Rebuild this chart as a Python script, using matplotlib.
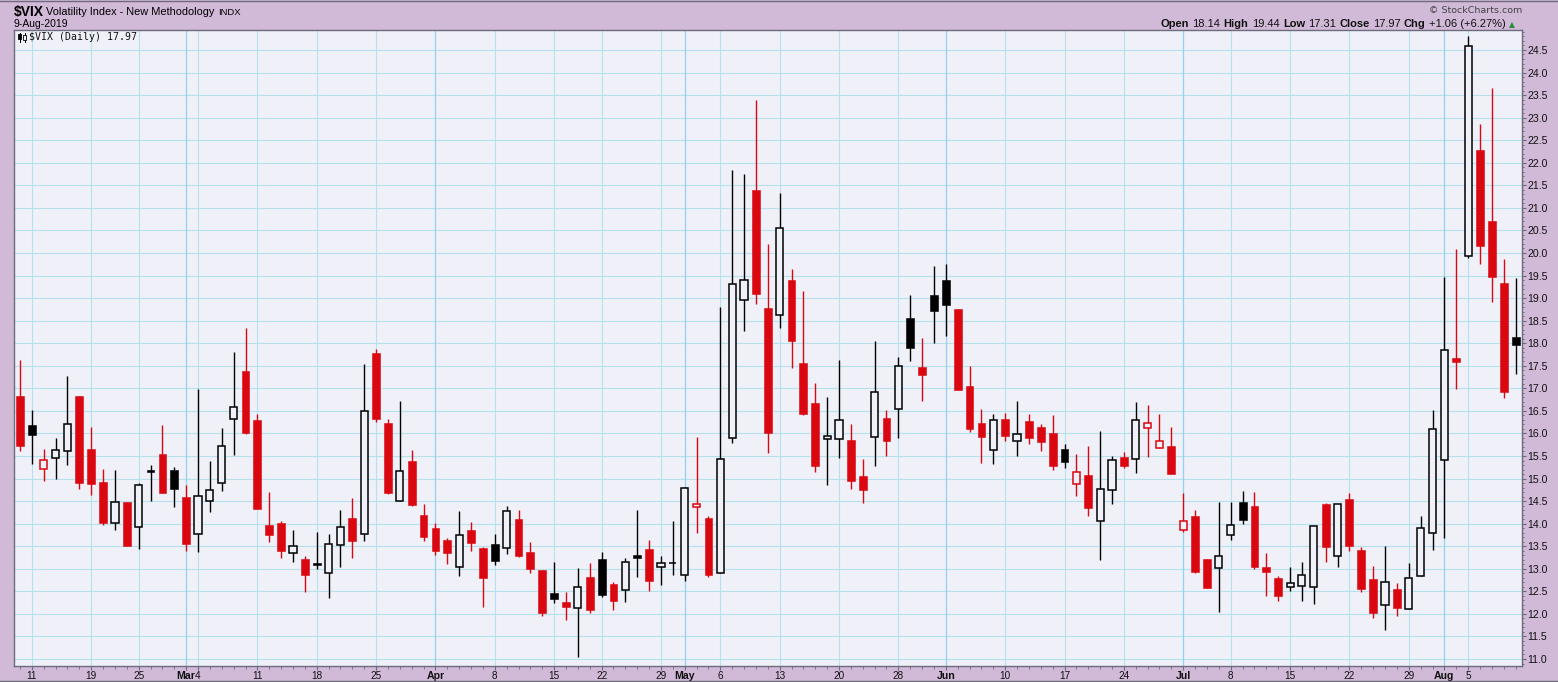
import matplotlib
matplotlib.use('Agg')
import matplotlib.pyplot as plt
import numpy as np
import pandas as pd
from matplotlib.offsetbox import TextArea, HPacker, AnnotationBbox
from matplotlib.patches import Rectangle
from matplotlib.lines import Line2D

# ---------------- data ----------------
holidays = ['2019-02-18', '2019-04-19', '2019-05-27', '2019-07-04']
dates = pd.bdate_range('2019-02-08', '2019-08-09')
dates = dates[~dates.isin(pd.to_datetime(holidays))]

prev_close0 = 16.37

opens = [16.82, 16.18, 15.22, 15.46, 15.62, 16.82, 15.65, 14.92, 14.01, 14.48,
         13.92, 15.17, 15.54, 15.18, 14.59, 13.76, 14.51, 14.91, 16.32, 17.39,
         16.29, 13.97, 14.01, 13.34, 13.22, 13.11, 12.90, 13.53, 14.12, 13.76,
         17.78, 16.23, 14.51, 15.39, 14.19, 13.90, 13.63, 13.05, 13.85, 13.46,
         13.54, 13.45, 14.10, 13.38, 12.98, 12.46, 12.27, 12.13, 12.82, 13.22,
         12.67, 12.53, 13.31, 13.44, 13.04, 13.12, 12.86, 14.36, 14.13, 12.91,
         15.90, 18.95, 21.40, 18.78, 18.62, 19.40, 17.57, 16.68, 15.88, 15.88,
         15.86, 15.06, 15.92, 16.35, 16.55, 18.55, 17.48, 19.06, 19.41, 18.75,
         17.06, 16.24, 15.64, 16.31, 15.84, 16.27, 16.15, 16.00, 15.65, 14.89,
         15.07, 14.06, 14.75, 15.48, 15.44, 16.12, 15.68, 15.73, 13.86, 14.18,
         13.21, 13.02, 13.75, 14.49, 14.40, 13.03, 12.79, 12.60, 12.62, 12.60,
         14.44, 13.28, 14.55, 13.41, 12.78, 12.19, 12.55, 12.10, 12.84, 13.79,
         15.41, 17.68, 19.93, 22.28, 20.70, 19.34, 18.14]
highs = [17.63, 16.51, 15.65, 15.91, 17.28, 16.84, 16.15, 15.21, 15.18, 14.48,
         14.90, 15.29, 16.18, 15.25, 14.85, 16.99, 15.40, 16.11, 17.81, 18.34,
         16.44, 14.70, 14.06, 13.86, 13.28, 13.81, 13.77, 14.30, 14.57, 17.53,
         17.87, 16.32, 16.71, 15.63, 14.43, 14.01, 13.68, 14.28, 14.03, 13.48,
         13.77, 14.39, 14.30, 13.60, 12.98, 13.15, 12.49, 13.02, 13.13, 13.37,
         12.71, 13.24, 14.30, 13.64, 13.29, 14.05, 14.82, 15.93, 14.17, 18.80,
         21.84, 21.74, 23.39, 20.20, 21.33, 19.65, 19.16, 17.12, 16.81, 17.63,
         16.21, 15.44, 18.05, 16.52, 17.70, 19.06, 18.12, 19.72, 19.76, 18.75,
         17.50, 16.55, 16.44, 16.46, 16.71, 16.44, 16.22, 16.40, 15.76, 15.54,
         15.73, 16.06, 15.50, 15.58, 16.70, 16.62, 16.42, 16.15, 14.67, 14.31,
         13.21, 14.49, 14.47, 14.73, 14.71, 13.34, 12.83, 13.03, 13.16, 13.95,
         14.46, 14.43, 14.68, 13.48, 13.07, 13.50, 12.68, 13.13, 14.16, 16.52,
         19.46, 20.09, 24.82, 22.87, 23.66, 19.87, 19.44]
lows = [15.61, 15.32, 14.95, 14.99, 15.30, 14.77, 14.64, 13.98, 13.85, 13.51,
        13.43, 14.51, 14.68, 14.37, 13.40, 13.38, 14.26, 14.73, 15.52, 15.99,
        14.33, 13.60, 13.25, 13.16, 12.49, 13.00, 12.36, 13.05, 13.25, 13.62,
        16.26, 14.66, 14.51, 14.40, 13.62, 13.31, 13.11, 12.85, 13.40, 12.16,
        13.09, 13.32, 13.27, 12.90, 11.95, 12.24, 11.86, 11.05, 12.01, 12.38,
        12.08, 12.26, 12.81, 12.50, 12.65, 12.87, 12.74, 13.80, 12.81, 12.91,
        15.78, 18.28, 18.86, 15.56, 18.33, 17.44, 16.40, 15.14, 14.85, 15.45,
        14.76, 14.45, 15.27, 15.50, 15.90, 17.60, 16.72, 18.00, 18.15, 16.96,
        16.03, 15.34, 15.32, 15.83, 15.50, 15.76, 15.61, 15.19, 15.23, 14.61,
        14.16, 13.19, 14.43, 15.23, 15.12, 15.47, 15.68, 15.10, 13.81, 12.90,
        12.57, 12.04, 13.63, 13.99, 12.99, 12.39, 12.28, 12.51, 12.28, 12.21,
        13.14, 13.05, 13.39, 12.49, 11.92, 11.64, 11.96, 12.10, 12.84, 13.41,
        13.69, 16.99, 19.88, 19.76, 18.91, 16.78, 17.31]
closes = [15.72, 15.96, 15.42, 15.64, 16.21, 14.90, 14.88, 14.02, 14.48, 13.51,
          14.85, 15.17, 14.68, 14.77, 13.56, 14.62, 14.74, 15.73, 16.59, 16.02,
          14.33, 13.75, 13.40, 13.50, 12.87, 13.11, 13.56, 13.92, 13.62, 16.49,
          16.32, 14.68, 15.16, 14.42, 13.71, 13.40, 13.36, 13.74, 13.58, 12.80,
          13.18, 14.27, 13.29, 13.00, 12.01, 12.32, 12.16, 12.60, 12.08, 12.41,
          12.28, 13.15, 13.25, 12.72, 13.12, 13.13, 14.80, 14.43, 12.87, 15.44,
          19.31, 19.40, 19.08, 16.02, 20.55, 18.04, 16.42, 15.27, 15.94, 16.30,
          14.94, 14.74, 16.92, 15.83, 17.50, 17.89, 17.29, 18.71, 18.84, 16.97,
          16.09, 15.93, 16.30, 15.94, 15.99, 15.89, 15.81, 15.28, 15.36, 15.15,
          14.34, 14.77, 15.41, 15.27, 16.30, 16.23, 15.83, 15.10, 14.06, 12.93,
          12.57, 13.28, 13.96, 14.09, 13.03, 12.93, 12.39, 12.68, 12.86, 13.94,
          13.49, 14.43, 13.50, 12.55, 12.03, 12.71, 12.12, 12.80, 13.90, 16.10,
          17.85, 17.58, 24.59, 20.15, 19.47, 16.91, 17.97]

tick_dates = ['2019-02-11', '2019-02-19', '2019-02-25', '2019-03-01', '2019-03-04',
              '2019-03-11', '2019-03-18', '2019-03-25', '2019-04-01', '2019-04-08',
              '2019-04-15', '2019-04-22', '2019-04-29', '2019-05-01', '2019-05-06',
              '2019-05-13', '2019-05-20', '2019-05-28', '2019-06-03', '2019-06-10',
              '2019-06-17', '2019-06-24', '2019-07-01', '2019-07-08', '2019-07-15',
              '2019-07-22', '2019-07-29', '2019-08-01', '2019-08-05']
tick_labels = ['11', '19', '25', 'Mar', '4', '11', '18', '25', 'Apr', '8',
               '15', '22', '29', 'May', '6', '13', '20', '28', 'Jun', '10',
               '17', '24', 'Jul', '8', '15', '22', '29', 'Aug', '5']
month_labels = {'Mar', 'Apr', 'May', 'Jun', 'Jul', 'Aug'}
y_ticks = np.arange(11.0, 24.51, 0.5)

# ---------------- style ----------------
W, H = 1558, 682
PURPLE = '#d1b9d8'
BG = '#eff0f8'
RED = '#da0711'
GRID = '#b5e1ec'
MGRID = '#94d3ee'
SPINE = '#6c6c7c'
FONT = 'Liberation Sans'

def fx(x):
    return x / W

def fy(y):
    return 1 - y / H

fig = plt.figure(figsize=(W / 100, H / 100), dpi=100, facecolor=PURPLE)
ax = fig.add_axes([fx(14), fy(666), (1522 - 14) / W, (666 - 29.5) / H])
ax.set_facecolor(BG)
ax.set_xlim(-0.505, 126.54)
ax.set_ylim(10.845, 24.954)

o = np.array(opens); h = np.array(highs); l = np.array(lows); c = np.array(closes)
x = np.arange(len(c))
prev = np.concatenate([[prev_close0], c[:-1]])
red = c < prev
hollow = c > o
col = np.where(red, RED, 'black')

# grid
for yv in y_ticks:
    ax.axhline(yv, color=GRID, lw=0.8, zorder=0)
date_index = {d.strftime('%Y-%m-%d'): i for i, d in enumerate(dates)}
tick_idx = [date_index[d] for d in tick_dates]
for ti, lab in zip(tick_idx, tick_labels):
    ax.axvline(ti, color=MGRID if lab in month_labels else GRID,
               lw=0.9 if lab in month_labels else 0.8, zorder=0)

# candles
ax.vlines(x, l, h, colors=col, lw=1.0, zorder=2)
hx = x[hollow]
ax.bar(hx, (c - o)[hollow], bottom=o[hollow], width=0.6,
       facecolor=BG, edgecolor=col[hollow], linewidth=1.1, zorder=3)
fmask = ~hollow
fh = np.maximum((o - c)[fmask], 0.05)
fb = np.where((o - c)[fmask] < 0.05, c[fmask] - 0.025, c[fmask])
ax.bar(x[fmask], fh, bottom=fb, width=0.66,
       color=col[fmask], edgecolor=col[fmask], linewidth=0.4, zorder=3)

# axes styling
for s in ax.spines.values():
    s.set_color(SPINE)
    s.set_linewidth(1.0)
ax.yaxis.tick_right()
ax.set_yticks(y_ticks)
ax.set_yticklabels([f'{v:.1f}' for v in y_ticks], fontsize=7.6, fontfamily=FONT, color='#111111')
ax.set_yticks(np.arange(10.9, 24.95, 0.1), minor=True)
ax.tick_params(axis='y', which='major', length=3, width=0.8, color=SPINE, pad=1.0)
ax.tick_params(axis='y', which='minor', length=1.5, width=0.7, color=SPINE)

ax.set_xticks(tick_idx)
ax.set_xticklabels(tick_labels, fontsize=7.2, fontfamily=FONT, color='#111111')
for tl in ax.get_xticklabels():
    if tl.get_text() in month_labels:
        tl.set_fontweight('bold')
        tl.set_fontsize(7.6)
ax.set_xticks(x, minor=True)
ax.tick_params(axis='x', which='major', length=3, width=0.8, color=SPINE, pad=0.5)
ax.tick_params(axis='x', which='minor', length=2, width=0.6, color=SPINE)

# ---------------- header ----------------
fig.text(fx(14), fy(12), r'\$VIX', fontsize=10, fontweight='bold', fontfamily=FONT,
         va='center', ha='left')
fig.text(fx(46), fy(12), 'Volatility Index - New Methodology', fontsize=7.9,
         fontfamily=FONT, va='center', ha='left')
fig.text(fx(218), fy(12.5), 'INDX', fontsize=6.8, fontfamily=FONT, va='center', ha='left')
fig.text(fx(14), fy(24), '9-Aug-2019', fontsize=7.5, fontfamily=FONT, va='center', ha='left')
fig.text(fx(1522), fy(10.5), '\u00a9 StockCharts.com', fontsize=6.8, fontfamily='DejaVu Sans',
         color='#444444', va='center', ha='right')

chg = c[-1] - c[-2]
pct = chg / c[-2] * 100
parts = [('Open', True), (f'{o[-1]:.2f}', False), ('High', True), (f'{h[-1]:.2f}', False),
         ('Low', True), (f'{l[-1]:.2f}', False), ('Close', True), (f'{c[-1]:.2f}', False),
         ('Chg', True), (f'{chg:+.2f} ({pct:+.2f}%)', False)]
areas = [TextArea(t, textprops=dict(fontsize=8, fontfamily=FONT,
                                    fontweight='bold' if b else 'normal', color='#111111'))
         for t, b in parts]
areas.append(TextArea('\u25b2', textprops=dict(fontsize=5.5, fontfamily='DejaVu Sans',
                                               color='#2e8b3a')))
pack = HPacker(children=areas, sep=2.4, pad=0, align='baseline')
ab = AnnotationBbox(pack, (fx(1515), fy(24)), xycoords='figure fraction',
                    box_alignment=(1, 0.5), frameon=False, pad=0)
fig.add_artist(ab)

# legend inside chart
def add_rect(x0, y0, w, hgt, fc, ec):
    fig.add_artist(Rectangle((fx(x0), fy(y0 + hgt)), w / W, hgt / H, transform=fig.transFigure,
                             facecolor=fc, edgecolor=ec, lw=0.6, zorder=10))

def add_line(x0, y0, x1, y1, colr='black', lw=0.7):
    fig.add_artist(Line2D([fx(x0), fx(x1)], [fy(y0), fy(y1)], transform=fig.transFigure,
                          color=colr, lw=lw, zorder=10))

add_line(19.5, 32.5, 19.5, 41.5)
add_rect(18, 34, 3, 5, 'black', 'black')
add_line(24.5, 32.5, 24.5, 41.5)
add_rect(23, 35, 3, 5, BG, 'black')
fig.text(fx(29), fy(37), r'\$VIX (Daily) ' + f'{c[-1]:.2f}', fontsize=7.1,
         fontfamily='DejaVu Sans Mono', va='center', ha='left', color='#111111')

# outer border lines
fig.add_artist(Line2D([0, 1], [fy(0.7), fy(0.7)], transform=fig.transFigure, color=SPINE, lw=1.0))
fig.add_artist(Line2D([0, 1], [fy(681.3), fy(681.3)], transform=fig.transFigure, color=SPINE, lw=1.0))

fig.savefig('out.png', dpi=100, facecolor=PURPLE)
